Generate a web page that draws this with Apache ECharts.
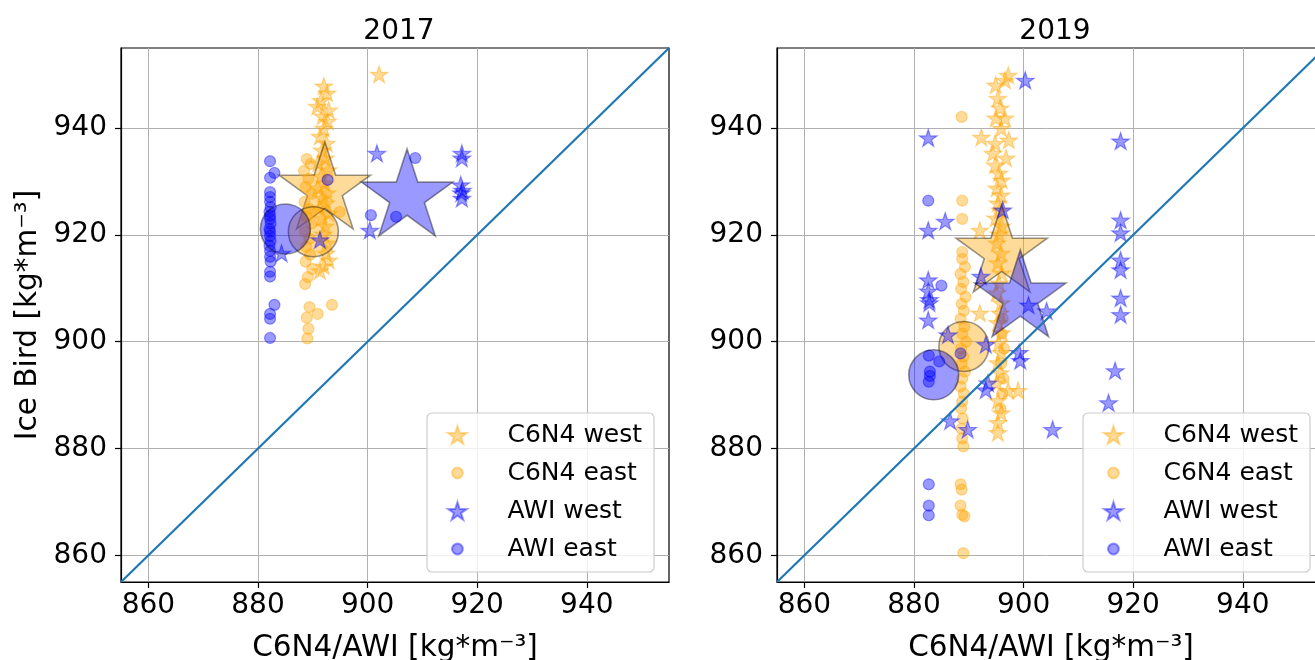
<!DOCTYPE html>
<html>
<head>
<meta charset="utf-8">
<script src="https://cdn.jsdelivr.net/npm/echarts@6/dist/echarts.min.js"></script>
<style>
  body { margin: 0; background: #fff; }
  #main { width: 1315px; height: 660px; }
</style>
</head>
<body>
<div id="main"></div>
<script>
// panel titles, legend names and axis ticks
var years = ['2017', '2019'];
var legendNames = ['C6N4 west', 'C6N4 east', 'AWI west', 'AWI east'];
var tickValues = [860, 880, 900, 920, 940];
var axisRange = [855, 955];
var oneToOne = [[855, 855], [955, 955]];

// 2017 panel, [C6N4/AWI, Ice Bird]
var c6n4West2017 = [[892.0,947.7],[892.6,946.4],[891.5,945.0],[890.8,943.9],[892.9,943.2],[891.8,942.1],[892.7,941.1],
  [892.0,939.8],[891.3,938.3],[892.5,937.0],[891.7,935.7],[892.3,934.2],[891.0,933.3],[892.8,932.0],[891.5,930.8],
  [892.2,929.5],[890.9,928.6],[892.6,927.7],[891.8,926.7],[892.4,925.8],[891.2,924.9],[892.9,923.9],[891.6,923.0],
  [892.3,921.5],[891.9,920.0],[892.6,918.3],[892.4,916.4],[892.9,915.1],[892.0,914.0],[891.3,913.1],[902.1,949.9]];
var c6n4East2017 = [[888.9,934.2],[889.6,933.3],[888.4,932.0],[889.2,930.5],[888.7,929.0],[889.8,927.7],[888.5,926.2],
  [889.3,924.9],[888.9,923.4],[889.7,922.1],[888.6,920.6],[889.4,919.3],[888.8,917.8],[889.5,916.3],[888.7,915.0],
  [889.9,913.6],[889.1,912.1],[888.6,910.8],[894.9,924.3],[889.4,906.5],[893.5,906.9],[890.9,905.2],[888.9,904.5],
  [889.2,902.4],[889.0,900.6]];
var awiWest2017 = [[901.7,935.1],[900.4,920.7],[917.2,935.1],[917.2,934.2],[917.0,929.2],[917.3,928.2],[917.1,927.7],
  [917.2,926.7],[891.3,918.9],[884.3,916.4]];
var awiEast2017 = [[882.2,933.8],[883.0,931.6],[882.2,930.7],[882.2,928.0],[882.2,927.1],[882.2,926.2],[882.3,925.2],
  [882.1,924.3],[882.2,923.6],[882.2,923.0],[882.3,922.1],[882.1,921.1],[882.2,920.6],[882.2,919.8],[882.3,918.9],
  [882.1,918.0],[882.2,917.0],[882.2,915.9],[882.3,915.0],[882.2,913.1],[882.2,912.2],[883.0,906.9],[882.2,905.2],
  [882.2,904.3],[882.2,900.7],[892.7,930.3],[908.7,934.4],[900.6,923.7],[905.2,923.4]];
var c6n4WestMean2017 = [892.2, 928.4];
var c6n4EastMean2017 = [890.1, 920.6];
var awiWestMean2017 = [907.2, 927.1];
var awiEastMean2017 = [885.0, 921.1];

// 2019 panel
var c6n4West2019 = [[897.2,949.7],[896.6,948.8],[894.9,947.9],[895.3,945.4],[895.7,943.6],[894.9,941.7],[896.6,941.7],
  [895.9,939.8],[897.3,937.6],[894.8,937.0],[894.4,935.1],[896.8,934.2],[894.8,932.9],[895.5,931.4],[896.0,930.1],
  [895.1,928.6],[895.9,927.3],[895.3,925.8],[895.7,924.5],[894.9,923.0],[896.0,921.5],[895.5,920.0],[895.1,918.3],
  [895.9,916.4],[895.3,914.6],[896.0,912.7],[895.5,910.8],[895.1,909.0],[895.9,907.1],[895.7,905.2],[895.3,903.4],
  [896.0,901.5],[895.5,899.6],[895.9,897.8],[895.3,895.9],[895.7,894.0],[895.1,892.1],[897.2,890.7],[895.3,888.8],
  [895.9,886.5],[895.3,884.7],[895.3,882.8],[892.3,938.1],[892.0,920.7],[892.0,905.2],[899.0,890.7]];
var c6n4East2019 = [[888.7,942.1],[888.8,926.4],[888.8,923.0],[888.8,916.8],[888.8,915.5],[889.3,914.0],[888.5,912.7],
  [889.0,911.2],[888.6,909.9],[889.4,908.4],[888.7,907.1],[889.1,905.8],[888.5,904.3],[889.2,902.8],[888.8,901.5],
  [889.5,900.0],[888.6,898.7],[889.0,897.2],[888.7,895.9],[889.3,894.4],[888.8,893.1],[888.5,891.6],[889.1,890.3],
  [888.8,888.8],[888.6,887.5],[888.9,885.6],[888.7,883.7],[888.8,881.9],[889.0,880.4],[888.5,873.3],[888.7,872.3],
  [888.5,869.3],[888.8,867.6],[889.2,867.3],[889.0,860.4],[896.2,904.3],[896.0,901.5],[896.4,898.7],[895.9,895.9],
  [896.3,893.1],[896.1,890.3],[895.8,887.5]];
var awiWest2019 = [[900.3,948.8],[882.6,938.0],[885.7,922.4],[882.6,920.7],[896.2,924.5],[882.6,911.4],[882.6,909.3],
  [882.8,907.7],[882.8,907.1],[882.6,903.9],[892.2,912.1],[886.2,901.1],[893.1,899.3],[900.9,906.7],[904.2,905.6],
  [899.2,897.8],[899.4,896.3],[893.5,892.1],[893.1,890.8],[886.6,885.0],[889.8,883.4],[905.3,883.4],[917.7,937.4],
  [917.7,922.6],[917.7,920.2],[917.7,915.1],[917.7,913.3],[917.7,908.0],[917.7,904.9],[916.7,894.4],[915.5,888.4]];
var awiEast2019 = [[882.6,926.4],[885.0,910.5],[888.5,897.8],[882.7,897.4],[884.6,896.3],[882.9,894.4],[882.9,893.6],
  [882.7,892.5],[882.7,873.3],[882.7,869.3],[882.7,867.5]];
var c6n4WestMean2019 = [896.0, 916.6];
var c6n4EastMean2019 = [889.1, 899.1];
var awiWestMean2019 = [899.4, 908.2];
var awiEastMean2019 = [883.6, 893.8];

var FONT = 'DejaVu Sans';
var ORANGE = 'rgba(255,165,0,0.5)';
var BLUE = 'rgba(0,0,255,0.5)';

// five point star like matplotlib's '*' marker
function starPath() {
    var pts = [];
    for (var k = 0; k < 10; k++) {
        var r = k % 2 === 0 ? 50 : 19.1;
        var a = (-90 + 36 * k) * Math.PI / 180;
        pts.push((50 + r * Math.cos(a)).toFixed(2) + ',' + (50 + r * Math.sin(a)).toFixed(2));
    }
    return 'path://M' + pts.join(' L') + ' Z';
}
var STAR = starPath();
// small circle with padding so the legend keeps it small
var LEGEND_DOT = 'path://M0,0 M20,20 M4,10 A6,6 0 1,1 16,10 A6,6 0 1,1 4,10 Z';

function starSize(R) { return [1.902 * R, 1.809 * R]; }
function starOffset(R) { return [0, -0.0955 * R]; }

function pointSeries(name, data, color, isStar, idx) {
    return {
        name: name, type: 'scatter', xAxisIndex: idx, yAxisIndex: idx,
        data: data,
        symbol: isStar ? STAR : 'circle',
        symbolSize: isStar ? starSize(9.3) : 11,
        symbolOffset: isStar ? starOffset(9.3) : [0, 0],
        itemStyle: { color: color, borderColor: color, borderWidth: 1.2 },
        emphasis: { disabled: true }
    };
}

function meanSeries(name, point, color, isStar, idx) {
    return {
        name: name, type: 'scatter', xAxisIndex: idx, yAxisIndex: idx,
        data: [point],
        symbol: isStar ? STAR : 'circle',
        symbolSize: isStar ? starSize(48) : 50,
        symbolOffset: isStar ? starOffset(48) : [0, 0],
        itemStyle: { color: color, borderColor: 'rgba(0,0,0,0.5)', borderWidth: 1.6 },
        emphasis: { disabled: true }
    };
}

var panels = [
    { pts: [c6n4West2017, c6n4East2017, awiWest2017, awiEast2017],
      means: [c6n4WestMean2017, c6n4EastMean2017, awiWestMean2017, awiEastMean2017] },
    { pts: [c6n4West2019, c6n4East2019, awiWest2019, awiEast2019],
      means: [c6n4WestMean2019, c6n4EastMean2019, awiWestMean2019, awiEastMean2019] }
];
var colors = [ORANGE, ORANGE, BLUE, BLUE];
var stars = [true, false, true, false];
var gridLeft = [121, 777];

var grids = [], xAxes = [], yAxes = [], titles = [], legends = [], series = [];

panels.forEach(function (p, i) {
    grids.push({ left: gridLeft[i], top: 48, width: 548, height: 534, show: true,
                 outerBoundsMode: 'none', containLabel: false,
                 borderColor: '#000', borderWidth: 1.2, backgroundColor: 'transparent' });
    var common = {
        type: 'value', gridIndex: i, min: axisRange[0], max: axisRange[1], splitNumber: 5,
        axisLine: { show: true, onZero: false, lineStyle: { color: '#000', width: 1.2 } },
        axisTick: { show: true, length: 6, customValues: tickValues, lineStyle: { color: '#000', width: 1.2 } },
        axisLabel: { customValues: tickValues, fontSize: 28, color: '#000', fontFamily: FONT },
        splitLine: { show: true, lineStyle: { color: '#b0b0b0', width: 1 } },
        nameTextStyle: { fontSize: 29.5, color: '#000', fontFamily: FONT }
    };
    xAxes.push(echarts.util.merge({
        name: 'C6N4/AWI [kg*m⁻³]', nameLocation: 'middle', nameGap: 51,
        axisLabel: { margin: 10 }
    }, common));
    yAxes.push(echarts.util.merge({
        name: i === 0 ? 'Ice Bird [kg*m⁻³]' : '', nameLocation: 'middle', nameGap: 78,
        axisLabel: { margin: 14 }
    }, common));
    titles.push({ text: years[i], left: gridLeft[i] + 273, top: 13, textAlign: 'center',
                  textStyle: { fontSize: 28, fontWeight: 'normal', color: '#000', fontFamily: FONT } });
    legends.push({
        orient: 'vertical', left: gridLeft[i] + 306, top: 413,
        itemWidth: 32, itemHeight: 18, itemGap: 12,
        padding: [9, 12, 10, 20],
        backgroundColor: 'rgba(255,255,255,0.8)', borderColor: '#cccccc', borderWidth: 1.2, borderRadius: 5,
        textStyle: { fontSize: 25, lineHeight: 26, color: '#000', fontFamily: FONT, padding: [0, 0, 0, 29] },
        selectedMode: false,
        data: legendNames.map(function (n, k) { return { name: n, icon: stars[k] ? STAR : LEGEND_DOT }; })
    });
    for (var k = 0; k < 4; k++) {
        series.push(pointSeries(legendNames[k], p.pts[k], colors[k], stars[k], i));
        series.push(meanSeries(legendNames[k] + ' mean ' + years[i], p.means[k], colors[k], stars[k], i));
    }
    series.push({
        name: '1:1 ' + years[i], type: 'line', xAxisIndex: i, yAxisIndex: i,
        data: oneToOne, symbol: 'none', z: 3,
        lineStyle: { color: '#1f77b4', width: 2.2 }, emphasis: { disabled: true }
    });
});

var myChart = echarts.init(document.getElementById('main'));
myChart.setOption({
    animation: false,
    backgroundColor: '#fff',
    textStyle: { fontFamily: FONT },
    title: titles,
    legend: legends,
    grid: grids,
    xAxis: xAxes,
    yAxis: yAxes,
    series: series
});
</script>
</body>
</html>
